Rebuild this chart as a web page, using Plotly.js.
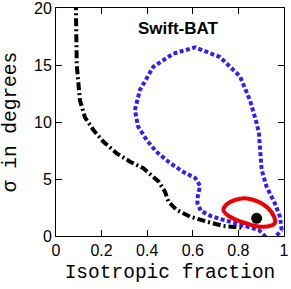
<!DOCTYPE html>
<html>
<head>
<meta charset="utf-8">
<script src="https://cdn.plot.ly/plotly-3.0.1.min.js"></script>
<style>html,body{margin:0;padding:0;background:#fff;}#chart{width:291px;height:289px;}</style>
</head>
<body>
<div id="chart"></div>
<script>
// Black dash-dot curve
const blackX = [0.087, 0.088, 0.091, 0.105, 0.127, 0.164, 0.208, 0.266, 0.325, 0.383, 0.412, 0.449, 0.478, 0.493, 0.529, 0.588, 0.661, 0.734, 0.807, 0.825];
const blackY = [20.5, 19.8, 15.0, 11.9, 10.4, 9.3, 8.27, 7.25, 6.52, 5.94, 5.4, 4.8, 3.89, 3.01, 2.28, 1.70, 1.26, 0.88, 0.73, 0.55];

// Blue dotted contour
const blueX = [0.99, 0.982, 0.96, 0.924, 0.902, 0.895, 0.89, 0.88, 0.851, 0.807, 0.719, 0.61, 0.515, 0.427, 0.368, 0.346, 0.36, 0.398, 0.44, 0.5, 0.56, 0.61, 0.632, 0.622, 0.62, 0.635, 0.68, 0.72, 0.79, 0.85, 0.89, 0.94, 0.99];
const blueY = [0.5, 1.7, 2.87, 4.3, 5.8, 7.5, 9.0, 9.9, 11.9, 14.0, 15.7, 16.55, 16.0, 14.85, 12.8, 11.05, 9.6, 8.4, 7.4, 6.4, 5.6, 5.1, 4.4, 3.5, 2.9, 2.2, 1.75, 1.5, 1.1, 0.75, 0.53, -0.5, 0.5];

// Red ellipse
const redX = [0.734, 0.749, 0.785, 0.836, 0.887, 0.931, 0.956, 0.961, 0.939, 0.895, 0.844, 0.785, 0.746, 0.734];
const redY = [2.28, 2.78, 3.16, 3.30, 3.01, 2.43, 1.70, 1.17, 0.88, 0.82, 1.05, 1.46, 1.93, 2.28];

// Best-fit point
const pointX = [0.88];
const pointY = [1.55];

const xTicks = [0, 0.2, 0.4, 0.6, 0.8, 1];
const xTickLabels = ['0', '0.2', '0.4', '0.6', '0.8', '1'];
const yTicks = [0, 5, 10, 15, 20];
const yTickLabels = ['0', '5', '10', '15', '20'];

const monoFont = "'Liberation Mono', 'Courier New', Courier, monospace";
const sansFont = "'Liberation Sans', Arial, Helvetica, sans-serif";

const traces = [
  {x: blackX, y: blackY, mode: 'lines', line: {color: '#000', width: 4, dash: '8px,3px,2px,3px'}, hoverinfo: 'skip'},
  {x: blueX, y: blueY, mode: 'lines', line: {color: 'rgb(52,30,245)', width: 4, dash: '4px,2.5px'}, hoverinfo: 'skip'},
  {x: redX, y: redY, mode: 'lines', line: {color: '#ee0000', width: 4, shape: 'spline', smoothing: 1}, hoverinfo: 'skip'},
  {x: pointX, y: pointY, mode: 'markers', marker: {color: '#000', size: 11}, hoverinfo: 'skip', cliponaxis: false}
];

const axisCommon = {
  showline: true, mirror: 'ticks', linecolor: '#000', linewidth: 1,
  ticks: 'inside', ticklen: 6, tickcolor: '#000', tickwidth: 1,
  showgrid: false, zeroline: false, ticklabeloverflow: 'allow',
  tickfont: {family: sansFont, size: 16, color: '#000'}
};

const layout = {
  width: 291, height: 289,
  margin: {l: 56, r: 7, t: 8, b: 53},
  paper_bgcolor: '#fff', plot_bgcolor: '#fff',
  showlegend: false,
  xaxis: Object.assign({}, axisCommon, {
    range: [-0.00001, 1.00001], tickvals: xTicks, ticktext: xTickLabels,
    title: {text: 'Isotropic fraction', font: {family: monoFont, size: 19.5, color: '#000'}, standoff: 6}
  }),
  yaxis: Object.assign({}, axisCommon, {
    range: [-0.0001, 20.0001], tickvals: yTicks, ticktext: yTickLabels,
    title: {text: 'σ in degrees', font: {family: monoFont, size: 19.5, color: '#000'}, standoff: 12}
  }),
  annotations: [{
    x: 0.537, y: 18.2, xref: 'x', yref: 'y', text: '<b>Swift-BAT</b>', showarrow: false,
    font: {family: sansFont, size: 17, color: '#000'}
  }]
};

Plotly.newPlot('chart', traces, layout, {staticPlot: true, displayModeBar: false});
</script>
</body>
</html>
